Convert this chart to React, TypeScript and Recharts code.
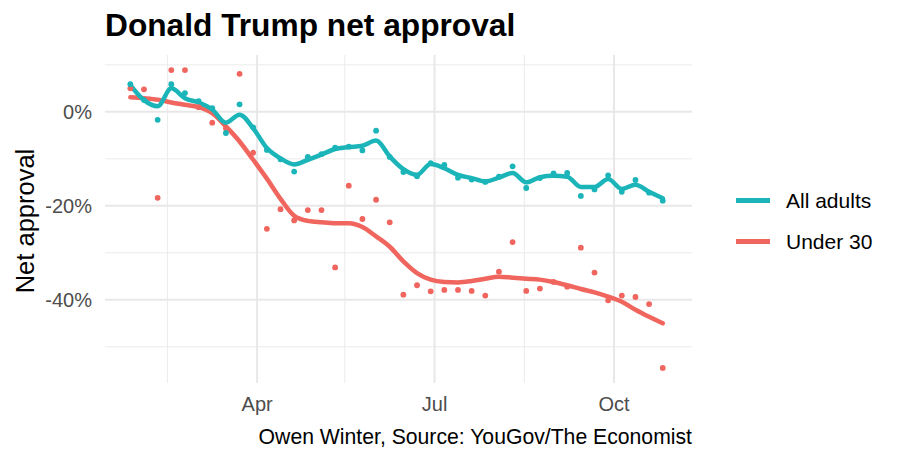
import { ComposedChart, Line, Scatter, XAxis, YAxis, CartesianGrid } from "recharts";

// weekly poll dates (2025)
const dates = [
  "2025-01-26", "2025-02-02", "2025-02-09", "2025-02-16", "2025-02-23",
  "2025-03-02", "2025-03-09", "2025-03-16", "2025-03-23", "2025-03-30",
  "2025-04-06", "2025-04-13", "2025-04-20", "2025-04-27", "2025-05-04",
  "2025-05-11", "2025-05-18", "2025-05-25", "2025-06-01", "2025-06-08",
  "2025-06-15", "2025-06-22", "2025-06-29", "2025-07-06", "2025-07-13",
  "2025-07-20", "2025-07-27", "2025-08-03", "2025-08-10", "2025-08-17",
  "2025-08-24", "2025-08-31", "2025-09-07", "2025-09-14", "2025-09-21",
  "2025-09-28", "2025-10-05", "2025-10-12", "2025-10-19", "2025-10-26",
];

const allAdults = [
  5.9, 2.5, -1.7, 5.9, 4.0, 2.3, 0.8, -4.5, 1.6, -3.3,
  -8.1, -10.1, -12.7, -9.6, -9.0, -7.6, -7.4, -8.2, -4.0, -9.6,
  -12.8, -13.7, -10.9, -11.3, -14.0, -14.4, -14.9, -13.8, -11.6, -16.2,
  -14.1, -13.1, -13.0, -17.9, -16.5, -13.5, -17.0, -14.5, -17.2, -18.9,
];

const allAdultsSmooth = [
  5.7, 2.5, 1.2, 5.0, 2.9, 2.0, 0.5, -2.3, -0.6, -3.5,
  -7.7, -9.9, -11.2, -10.2, -9.1, -7.9, -7.5, -7.2, -6.1, -9.5,
  -12.2, -13.4, -11.1, -12.0, -13.4, -14.1, -14.8, -14.0, -13.0, -15.0,
  -13.9, -13.6, -13.8, -16.0, -16.0, -14.3, -16.4, -15.5, -17.0, -18.4,
];

const under30 = [
  5.0, 4.8, -18.3, 8.9, 8.9, 1.0, -2.3, -3.5, 8.1, -8.7,
  -24.9, -20.7, -23.1, -20.9, -20.9, -33.1, -15.7, -22.8, -18.7, -23.5,
  -38.9, -36.9, -38.2, -37.9, -37.9, -38.1, -39.1, -34.0, -27.7, -38.1,
  -37.6, -36.2, -37.2, -28.9, -34.2, -40.1, -39.1, -39.4, -40.9, -54.5,
];

const under30Smooth = [
  3.1, 2.9, 2.6, 2.0, 1.5, 1.0, -0.3, -3.1, -6.3, -10.2,
  -14.2, -18.5, -22.1, -23.2, -23.5, -23.7, -23.7, -24.5, -26.5, -28.7,
  -31.8, -34.3, -35.7, -36.2, -36.3, -36.0, -35.5, -35.1, -35.3, -35.5,
  -35.7, -36.2, -36.9, -37.7, -38.4, -39.3, -40.4, -42.1, -43.6, -45.0,
];

const monthTicks = ["2025-04-01", "2025-07-01", "2025-10-01"];
const monthLabels = ["Apr", "Jul", "Oct"];
const minorMonths = ["2025-02-14", "2025-05-16", "2025-08-16"];
const majorY = [0, -20, -40];
const minorY = [10, -10, -30, -50];

const TEAL = "#1BB5B9";
const RED = "#F0655E";
const FONT = "'Liberation Sans', Arial, Helvetica, sans-serif";

const dayOf = (s: string) =>
  (Date.parse(s + "T00:00:00Z") - Date.parse("2025-01-01T00:00:00Z")) / 86400000;

const xTicks = monthTicks.map(dayOf);
const xMinor = minorMonths.map(dayOf);

const data = dates.map((d, i) => ({
  day: dayOf(d),
  adults: allAdults[i],
  adultsFit: allAdultsSmooth[i],
  young: under30[i],
  youngFit: under30Smooth[i],
}));

const dot = (color: string) => (props: any) =>
  <circle cx={props.cx} cy={props.cy} r={2.9} fill={color} />;

export default function App() {
  return (
    <div style={{ position: "absolute", left: 0, top: 0, width: 899, height: 460, background: "#fff", fontFamily: FONT }}>
      <div style={{ position: "absolute", left: 105, top: 10, fontSize: 31.7, fontWeight: 700, lineHeight: 1, whiteSpace: "nowrap", color: "#000" }}>
        Donald Trump net approval
      </div>
      <div
        style={{
          position: "absolute",
          left: 26,
          top: 221,
          transform: "translate(-50%, -50%) rotate(-90deg)",
          fontSize: 25.5,
          lineHeight: 1,
          whiteSpace: "nowrap",
          color: "#000",
        }}
      >
        Net approval
      </div>

      <ComposedChart width={899} height={460} data={data} margin={{ top: 55, right: 207, bottom: 47, left: 45 }}>
        <CartesianGrid stroke="#EBEBEB" strokeWidth={1} horizontalValues={minorY} verticalValues={xMinor} />
        <CartesianGrid stroke="#E8E8E8" strokeWidth={2} horizontalValues={majorY} verticalValues={xTicks} />
        <XAxis
          dataKey="day"
          type="number"
          domain={[12, 313]}
          allowDataOverflow
          ticks={xTicks}
          tickFormatter={(v: number) => monthLabels[xTicks.indexOf(v)] ?? ""}
          axisLine={false}
          tickLine={false}
          tickSize={0}
          tickMargin={14}
          height={30}
          tick={{ fill: "#4D4D4D", fontSize: 20, fontFamily: FONT }}
        />
        <YAxis
          type="number"
          domain={[-57.7, 12.1]}
          allowDataOverflow
          ticks={majorY}
          tickFormatter={(v: number) => `${v}%`}
          axisLine={false}
          tickLine={false}
          tickSize={0}
          tickMargin={13}
          width={60}
          tick={{ fill: "#4D4D4D", fontSize: 20, fontFamily: FONT }}
        />
        <Scatter dataKey="young" fill={RED} shape={dot(RED)} isAnimationActive={false} />
        <Scatter dataKey="adults" fill={TEAL} shape={dot(TEAL)} isAnimationActive={false} />
        <Line dataKey="youngFit" type="monotone" stroke={RED} strokeWidth={4.5} dot={false} activeDot={false} strokeLinecap="round" isAnimationActive={false} />
        <Line dataKey="adultsFit" type="monotone" stroke={TEAL} strokeWidth={4.5} dot={false} activeDot={false} strokeLinecap="round" isAnimationActive={false} />
      </ComposedChart>

      <div style={{ position: "absolute", left: 736, top: 197.5, width: 34, height: 5, background: TEAL }} />
      <div style={{ position: "absolute", left: 786, top: 189.5, fontSize: 21, lineHeight: 1, color: "#000", whiteSpace: "nowrap" }}>All adults</div>
      <div style={{ position: "absolute", left: 736, top: 238.5, width: 34, height: 5, background: RED }} />
      <div style={{ position: "absolute", left: 786, top: 230.5, fontSize: 21, lineHeight: 1, color: "#000", whiteSpace: "nowrap" }}>Under 30</div>

      <div style={{ position: "absolute", right: 899 - 692, top: 426, fontSize: 21.2, lineHeight: 1, color: "#000", whiteSpace: "nowrap" }}>
        Owen Winter, Source: YouGov/The Economist
      </div>
    </div>
  );
}
